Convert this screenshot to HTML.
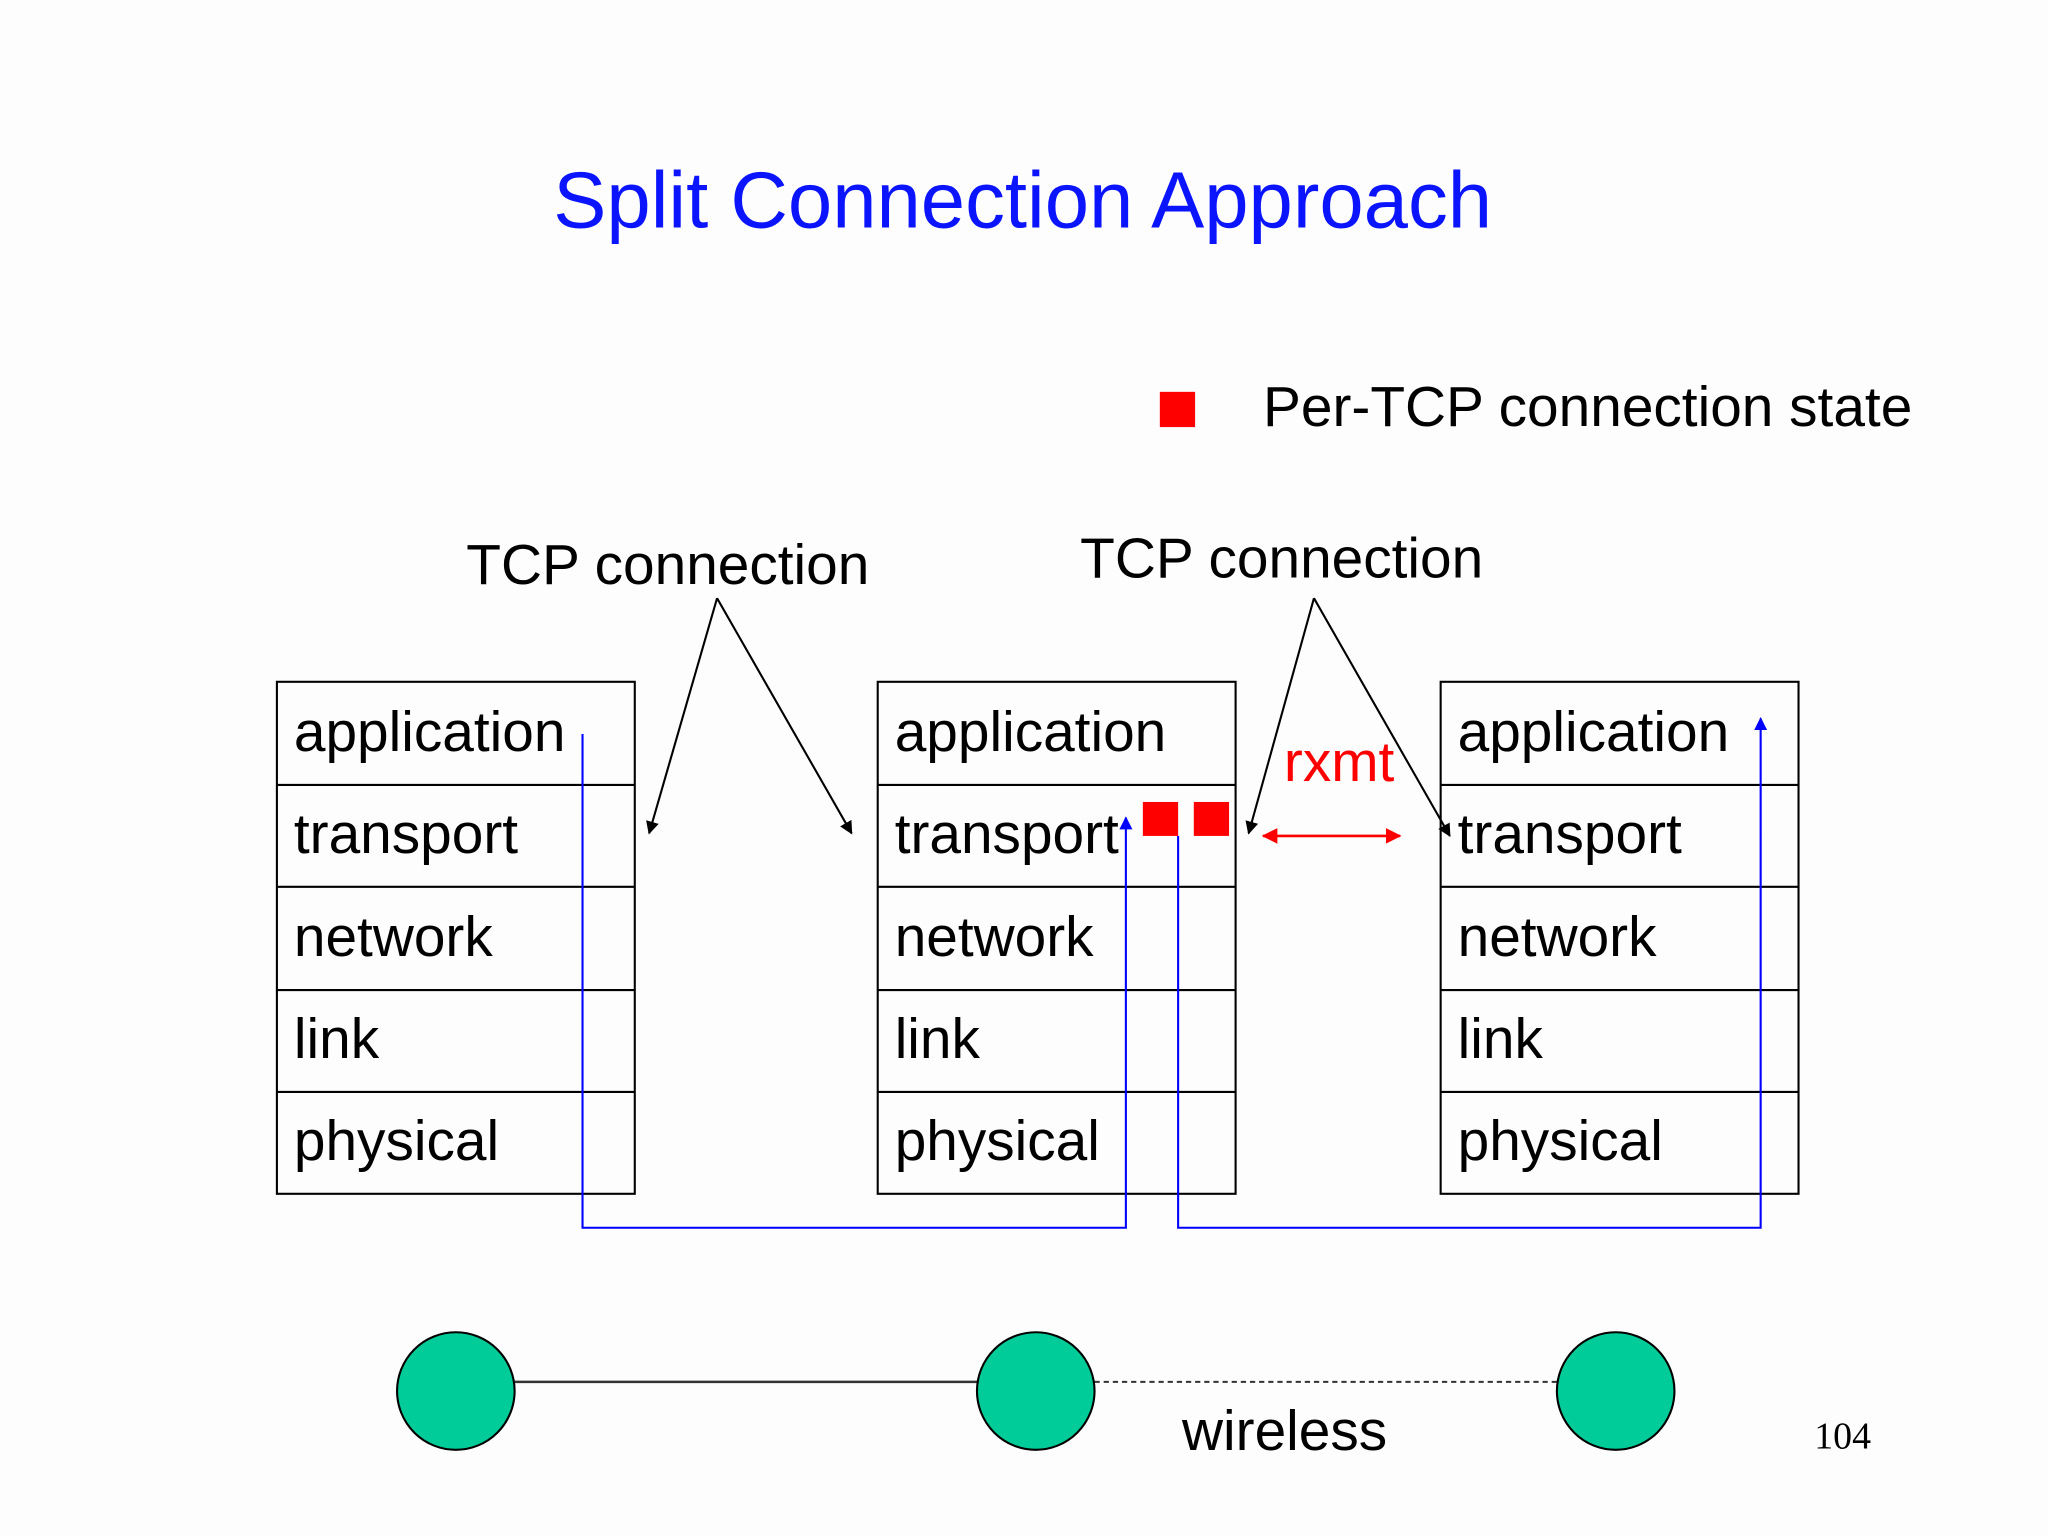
<!DOCTYPE html>
<html><head><meta charset="utf-8"><style>
html,body{margin:0;padding:0;background:#fdfdfd;}
svg{display:block;}
text{font-family:"Liberation Sans",sans-serif;}
</style></head><body>
<svg width="2048" height="1536" viewBox="0 0 1568 1176" preserveAspectRatio="none" xmlns="http://www.w3.org/2000/svg">
<defs>
<marker id="ab" markerWidth="10" markerHeight="10" refX="9" refY="5" orient="auto" markerUnits="userSpaceOnUse"><path d="M0,0 L10,5 L0,10 z" fill="#000"/></marker>
<marker id="au" markerWidth="10" markerHeight="12" refX="9" refY="5" orient="auto" markerUnits="userSpaceOnUse"><path d="M0,0 L10,5 L0,10 z" fill="#0000ff"/></marker>
<marker id="ar" markerWidth="12" markerHeight="12" refX="11" refY="6" orient="auto-start-reverse" markerUnits="userSpaceOnUse"><path d="M0,0 L12,6 L0,12 z" fill="#ff0000"/></marker>
</defs>
<rect width="1568" height="1176" fill="#fdfdfd"/>
<text x="783" y="174" font-size="61" fill="#0a14ff" text-anchor="middle">Split Connection Approach</text>
<rect x="888" y="300" width="27" height="27" fill="#ff0000"/>
<text x="967" y="326" font-size="43.5" fill="#000">Per-TCP connection state</text>
<text x="357" y="447" font-size="43.5">TCP connection</text>
<text x="827" y="442" font-size="43.5">TCP connection</text>

<g fill="none" stroke="#000" stroke-width="1.6">
<rect x="212" y="522" width="274" height="392"/>
<line x1="212" y1="601" x2="486" y2="601"/><line x1="212" y1="679" x2="486" y2="679"/><line x1="212" y1="758" x2="486" y2="758"/><line x1="212" y1="836" x2="486" y2="836"/>
<rect x="672" y="522" width="274" height="392"/>
<line x1="672" y1="601" x2="946" y2="601"/><line x1="672" y1="679" x2="946" y2="679"/><line x1="672" y1="758" x2="946" y2="758"/><line x1="672" y1="836" x2="946" y2="836"/>
<rect x="1103" y="522" width="274" height="392"/>
<line x1="1103" y1="601" x2="1377" y2="601"/><line x1="1103" y1="679" x2="1377" y2="679"/><line x1="1103" y1="758" x2="1377" y2="758"/><line x1="1103" y1="836" x2="1377" y2="836"/>
</g>
<g font-size="43.5" fill="#000">
<text x="225" y="575">application</text><text x="225" y="653">transport</text><text x="225" y="732">network</text><text x="225" y="810">link</text><text x="225" y="888">physical</text>
<text x="685" y="575">application</text><text x="685" y="653">transport</text><text x="685" y="732">network</text><text x="685" y="810">link</text><text x="685" y="888">physical</text>
<text x="1116" y="575">application</text><text x="1116" y="653">transport</text><text x="1116" y="732">network</text><text x="1116" y="810">link</text><text x="1116" y="888">physical</text>
</g>

<g fill="none" stroke="#0000ff" stroke-width="1.6">
<polyline points="446,562 446,940 862,940 862,626" marker-end="url(#au)"/>
<polyline points="902,640 902,940 1348,940 1348,550" marker-end="url(#au)"/>
</g>
<rect x="875" y="614" width="27" height="26" fill="#ff0000"/>
<rect x="914" y="614" width="27" height="26" fill="#ff0000"/>

<g stroke="#000" stroke-width="1.6" fill="none">
<line x1="549" y1="458" x2="497" y2="638" marker-end="url(#ab)"/>
<line x1="549" y1="458" x2="652" y2="638" marker-end="url(#ab)"/>
<line x1="1006" y1="458" x2="956" y2="638" marker-end="url(#ab)"/>
<line x1="1006" y1="458" x2="1110" y2="640" marker-end="url(#ab)"/>
</g>
<line x1="967" y1="640" x2="1072" y2="640" stroke="#ff0000" stroke-width="2" marker-start="url(#ar)" marker-end="url(#ar)"/>
<text x="983" y="598" font-size="43.5" fill="#ff0000">rxmt</text>

<line x1="394" y1="1058" x2="748" y2="1058" stroke="#333" stroke-width="2"/>
<line x1="838" y1="1058" x2="1192" y2="1058" stroke="#333" stroke-width="1.6" stroke-dasharray="4,3"/>
<g fill="#00cc99" stroke="#000" stroke-width="1.6">
<circle cx="349" cy="1065" r="45"/><circle cx="793" cy="1065" r="45"/><circle cx="1237" cy="1065" r="45"/>
</g>
<text x="905" y="1110" font-size="43.5">wireless</text>
<text x="1389" y="1109" font-size="29" style="font-family:'Liberation Serif',serif">104</text>
</svg>
</body></html>
